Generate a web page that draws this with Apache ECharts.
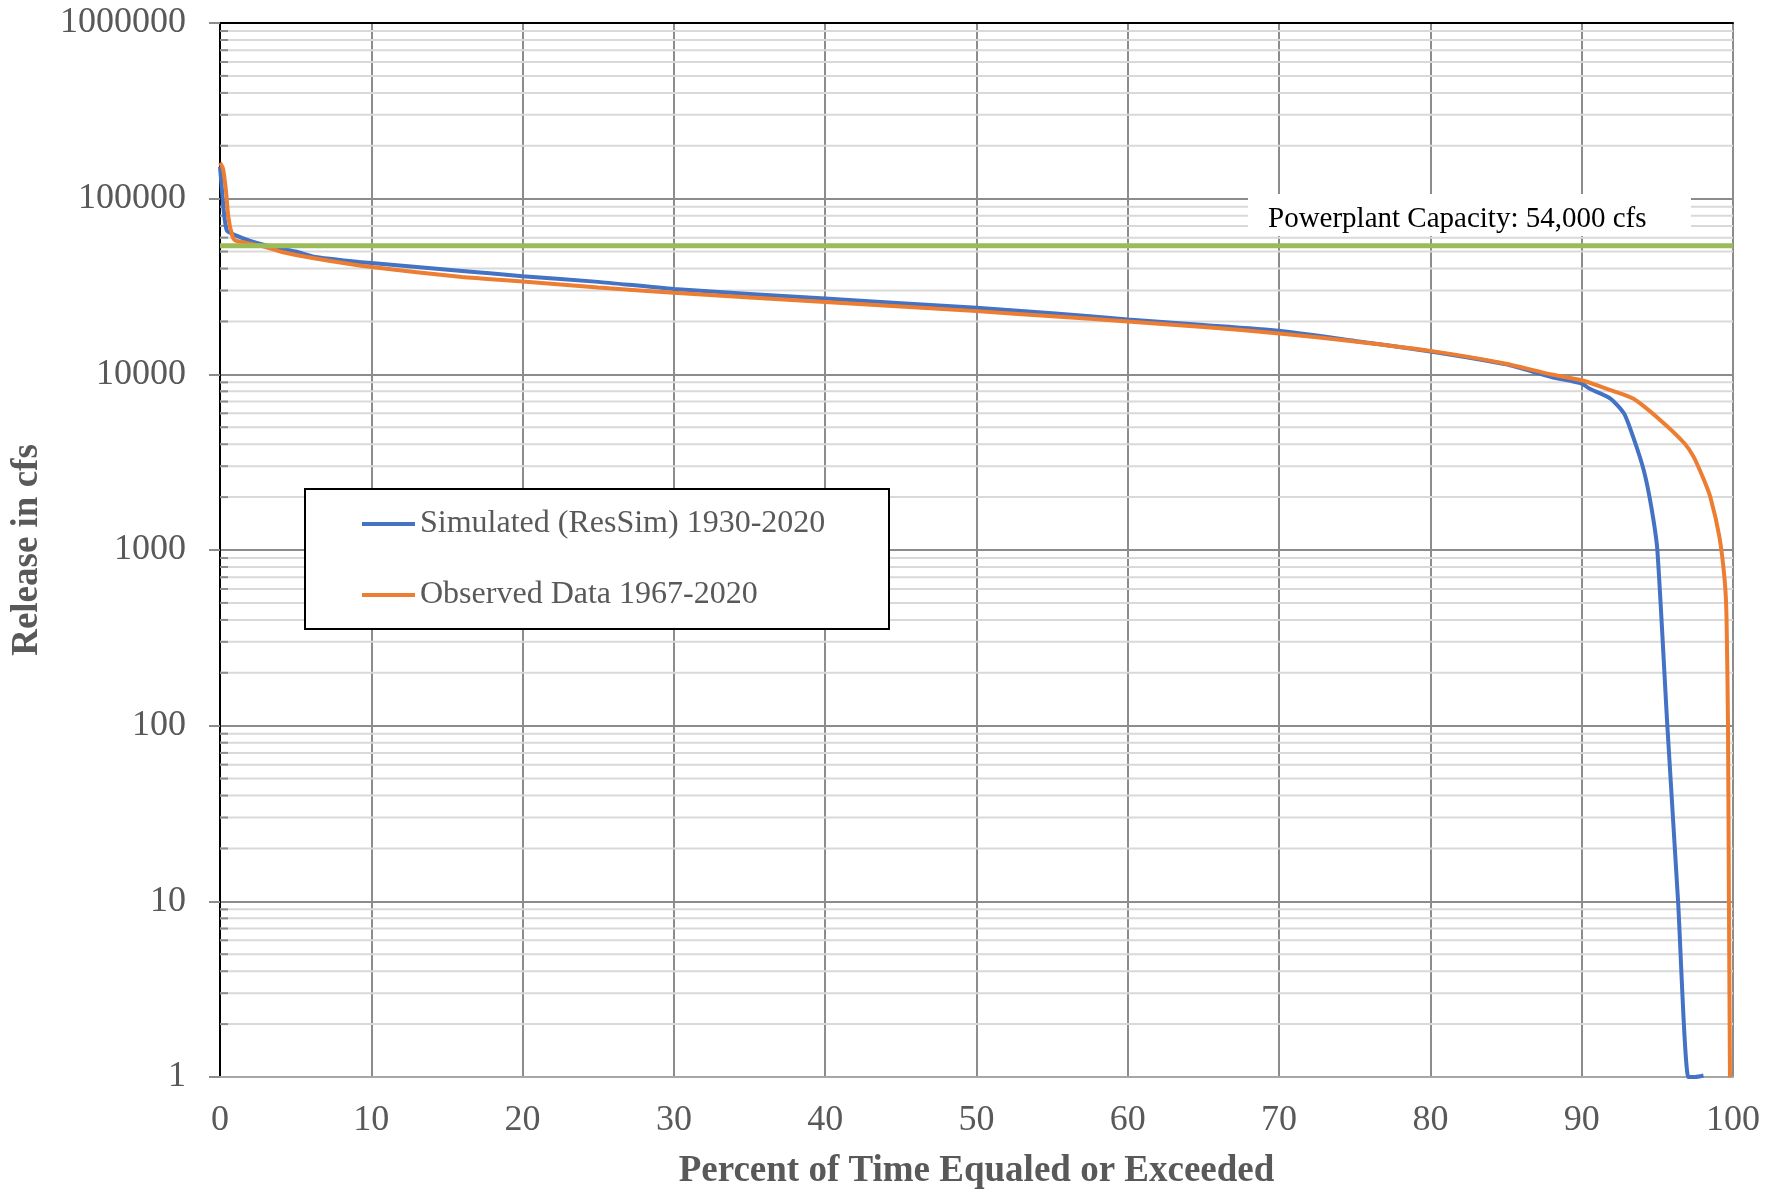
<!DOCTYPE html>
<html>
<head>
<meta charset="utf-8">
<title>Release duration curve</title>
<script src="https://cdn.jsdelivr.net/npm/echarts@6/dist/echarts.min.js"></script>
<style>
  html, body { margin: 0; padding: 0; background: #fff; }
  #chart { width: 1783px; height: 1195px; }
</style>
</head>
<body>
<div id="chart"></div>
<script>
// percent of time equaled or exceeded / release in cfs
var simPct = [0, 0.1, 0.25, 0.45, 1, 2, 3, 5, 6.3, 10, 16, 20, 25, 30, 40, 50, 55, 60, 65, 70, 75, 80, 85, 88, 90, 90.5, 91.9, 92.8, 93.4, 94.1, 94.6, 95.0, 95.66, 96.37, 97.05, 97.5, 98.05];
var simFlow = [152000, 120000, 85000, 66000, 62000, 57500, 54300, 50000, 46600, 43000, 38800, 36200, 33600, 30600, 27000, 23900, 22300, 20500, 19100, 17700, 15500, 13500, 11400, 9660, 8870, 8300, 7280, 5980, 4400, 2845, 1760, 1000, 100, 10, 1, 1, 1.02];

var obsPct = [0, 0.2, 0.4, 0.55, 0.8, 1.0, 2, 3, 4.1, 6.3, 10, 16, 20, 25, 30, 40, 50, 55, 60, 65, 70, 75, 80, 85, 88, 90, 91.9, 93.4, 95.2, 96.8, 97.4, 98.0, 98.5, 99.1, 99.45, 99.57, 99.67, 99.73, 99.8];
var obsFlow = [160000, 148000, 110000, 78700, 62000, 57900, 55500, 53100, 49700, 45600, 40800, 35800, 33800, 31200, 29100, 25800, 22900, 21400, 20000, 18600, 17100, 15400, 13600, 11500, 9980, 9250, 8130, 7280, 5480, 4040, 3390, 2600, 2005, 1190, 673, 420, 100, 10, 1];

var capacity = 54000;
var capacityLabel = 'Powerplant Capacity: 54,000 cfs';
var seriesNames = ['Simulated (ResSim) 1930-2020', 'Observed Data 1967-2020'];

// light minor gridlines at 2..9 of each decade
var minorValues = [];
for (var d = 1; d < 1000000; d *= 10) {
  for (var m = 2; m <= 9; m++) minorValues.push([0, d * m]);
}

function zip(xs, ys) {
  return xs.map(function (x, i) { return [x, ys[i]]; });
}

var font = "'Liberation Serif', 'Times New Roman', serif";
var grey = '#595959';

var myChart = echarts.init(document.getElementById('chart'));
var option = {
  animation: false,
  textStyle: { fontFamily: font },
  grid: { left: 220, right: 50, top: 23, bottom: 117 },
  legend: {
    data: seriesNames,
    orient: 'vertical',
    left: 362,
    top: 504,
    padding: 0,
    z: 20,
    icon: 'rect',
    itemWidth: 53,
    itemHeight: 4,
    itemGap: 31,
    textStyle: { fontFamily: font, fontSize: 32, color: grey, lineHeight: 40 }
  },
  graphic: [
    {
      type: 'rect', z: 10,
      shape: { x: 305, y: 489, width: 584, height: 140 },
      style: { fill: '#fff', stroke: '#000', lineWidth: 2 }
    },
    {
      type: 'rect', z: 10,
      shape: { x: 1248, y: 194, width: 443, height: 42 },
      style: { fill: '#fff' }
    },
    {
      type: 'text', z: 11, x: 1268, y: 219,
      style: { text: capacityLabel, font: '29px ' + font, fill: '#000', verticalAlign: 'middle' }
    }
  ],
  xAxis: [
    {
      type: 'value', min: 0, max: 100, interval: 10,
      name: 'Percent of Time Equaled or Exceeded',
      nameLocation: 'middle', nameGap: 76,
      nameTextStyle: { fontFamily: font, fontSize: 37, fontWeight: 'bold', color: grey },
      axisLine: { show: true, lineStyle: { color: '#a6a6a6', width: 2 } },
      axisTick: { show: false },
      axisLabel: { fontFamily: font, fontSize: 36, color: grey, margin: 26 },
      splitLine: { show: true, lineStyle: { color: '#8c8c8c', width: 2 } }
    },
    {
      type: 'value', min: 0, max: 100, position: 'top',
      axisLine: { show: true, lineStyle: { color: '#000', width: 2 } },
      axisTick: { show: false }, axisLabel: { show: false }, splitLine: { show: false }
    }
  ],
  yAxis: [
    {
      type: 'log', logBase: 10, min: 1, max: 1000000, interval: 1,
      name: 'Release in cfs',
      nameLocation: 'middle', nameGap: 174, nameRotate: 90,
      nameTextStyle: { fontFamily: font, fontSize: 37, fontWeight: 'bold', color: grey },
      axisLine: { show: true, lineStyle: { color: '#8c8c8c', width: 2 } },
      axisTick: { show: true, length: 11, lineStyle: { color: '#8c8c8c', width: 2 } },
      axisLabel: {
        fontFamily: font, fontSize: 36, color: grey, margin: 34,
        formatter: function (v) { return String(Math.round(v)); }
      },
      splitLine: { show: true, lineStyle: { color: '#8c8c8c', width: 2 } }
    },
    {
      type: 'log', logBase: 10, min: 1, max: 1000000, position: 'right',
      axisLine: { show: true, lineStyle: { color: '#000', width: 2 } },
      axisTick: { show: false }, axisLabel: { show: false }, splitLine: { show: false }
    }
  ],
  series: [
    {
      type: 'custom', name: 'minor', silent: true, z: 1,
      data: minorValues,
      encode: { x: 0, y: 1 },
      renderItem: function (params, api) {
        var v = api.value(1);
        var a = api.coord([0, v]);
        var b = api.coord([100, v]);
        return {
          type: 'group',
          children: [
            { type: 'line', shape: { x1: a[0], y1: a[1], x2: b[0], y2: b[1] }, style: { stroke: '#d9d9d9', lineWidth: 2 } },
            { type: 'line', shape: { x1: a[0], y1: a[1], x2: a[0] + 8, y2: a[1] }, style: { stroke: '#8c8c8c', lineWidth: 2 } }
          ]
        };
      }
    },
    {
      name: seriesNames[0], type: 'line', z: 3,
      data: zip(simPct, simFlow),
      symbol: 'none', smooth: 0.2,
      color: '#4472C4',
      lineStyle: { color: '#4472C4', width: 4 }
    },
    {
      name: seriesNames[1], type: 'line', z: 3,
      data: zip(obsPct, obsFlow),
      symbol: 'none', smooth: 0.2,
      color: '#ED7D31',
      lineStyle: { color: '#ED7D31', width: 4 }
    },
    {
      name: 'capacity', type: 'line', z: 4,
      data: [[0, capacity], [100, capacity]],
      symbol: 'none', silent: true,
      lineStyle: { color: '#9BBB59', width: 5 }
    }
  ]
};
myChart.setOption(option);
</script>
</body>
</html>
